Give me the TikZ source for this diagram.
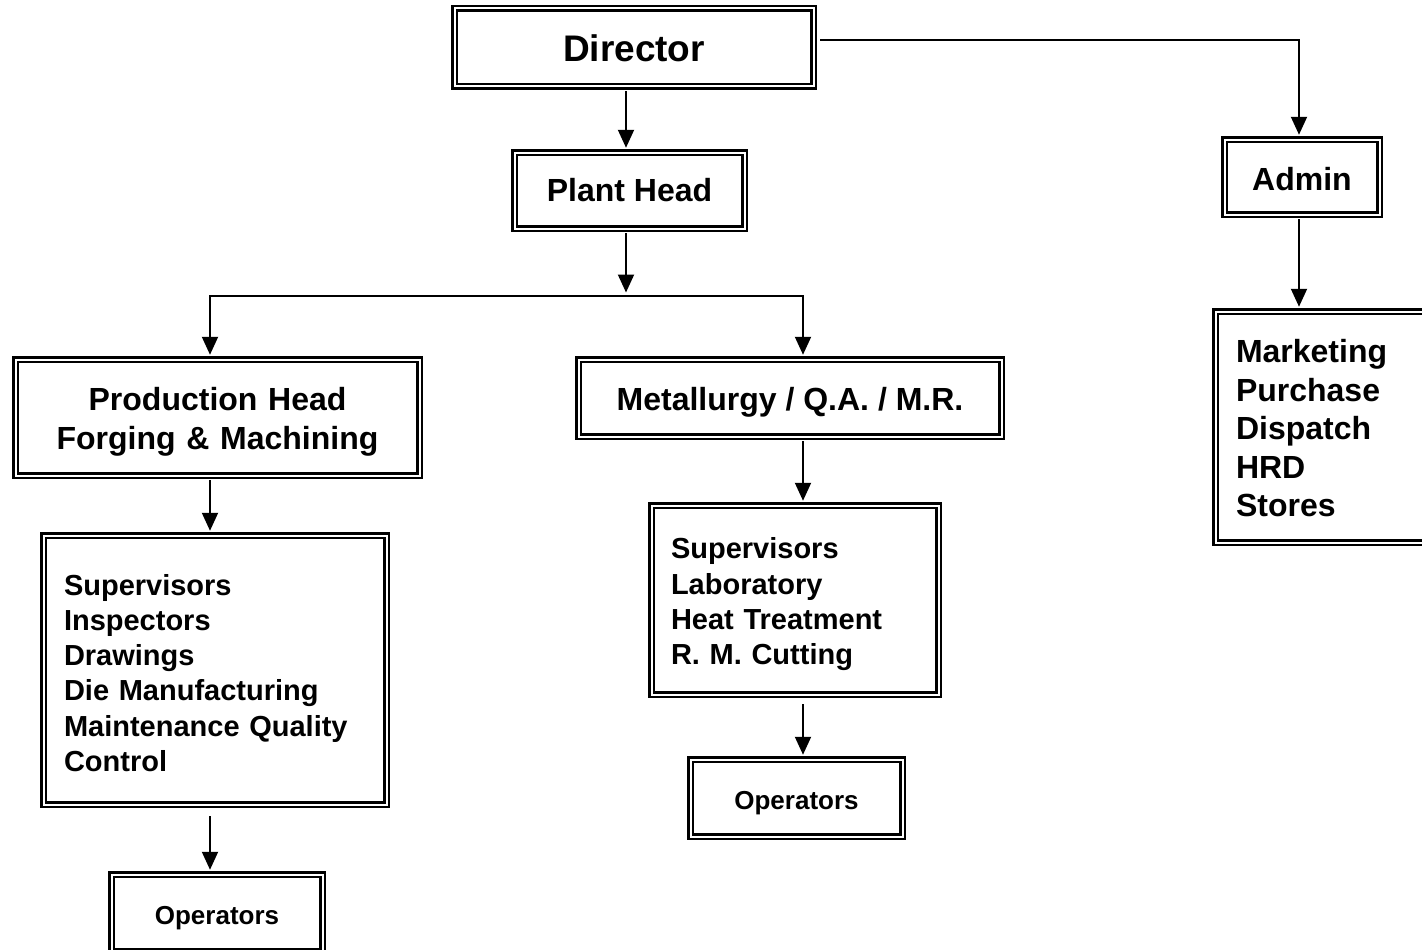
\documentclass[tikz,border=0pt]{standalone}
\usepackage{fontspec}
\setmainfont{Liberation Sans}
\usetikzlibrary{arrows.meta}

\begin{document}
\begin{tikzpicture}[x=1pt, y=-1pt,
  box/.style={draw, line width=2.5pt, double=white, double distance=2pt, inner sep=0pt, align=center, font=\bfseries\fontsize{32}{39}\selectfont},
  list/.style={box, align=left, font=\bfseries\fontsize{29}{35.2}\selectfont},
  lower/.style={execute at begin node={\rule{0pt}{#1}}},
  arr/.style={-{Triangle[width=16pt,length=18pt]}, line width=2pt, shorten >=3.5pt}]
\clip (0,0) rectangle (1422,950);

\node (director) [box, minimum width=359pt, minimum height=78pt, font=\bfseries\fontsize{37}{44}\selectfont, lower=28.5pt] at (634,47.5) {Director};
\node (plant) [box, minimum width=230pt, minimum height=76pt] at (629.5,190.5) {Plant Head};
\node (admin) [box, minimum width=155pt, minimum height=75pt, lower=27pt] at (1302,177) {Admin};
\node (prod) [box, text width=364pt, inner xsep=20pt, minimum height=116pt, lower=31.5pt] at (217.5,417.5) {Production Head\\Forging \& Machining};
\node (metal) [box, minimum width=423pt, minimum height=77pt, lower=31.5pt] at (790,398) {Metallurgy / Q.A. / M.R.};
\node (prodlist) [list, text width=302pt, inner xsep=20.5pt, minimum height=269pt, lower=27pt] at (215,670) {Supervisors\\Inspectors\\Drawings\\Die Manufacturing\\Maintenance Quality\\Control};
\node (metallist) [list, text width=248pt, inner xsep=19.5pt, minimum height=189pt, lower=29.5pt] at (795,600) {Supervisors\\Laboratory\\Heat Treatment\\R. M. Cutting};
\node (adminlist) [list, text width=170pt, inner xsep=20.5pt, minimum height=231pt, font=\bfseries\fontsize{32}{38.5}\selectfont, lower=25.5pt] at (1321,427) {Marketing\\Purchase\\Dispatch\\HRD\\Stores};
\node (prodops) [box, minimum width=211pt, minimum height=77pt, font=\bfseries\fontsize{26}{31}\selectfont, lower=29pt] at (217,913) {Operators};
\node (metalops) [box, minimum width=212pt, minimum height=77pt, font=\bfseries\fontsize{26}{31}\selectfont, lower=29pt] at (796.5,798) {Operators};

\coordinate (split) at (626,296);

% director to plant head and admin
\draw[arr, shorten <=3.5pt] ([xshift=-8pt]director.south) -- ([xshift=-8pt]director.south |- plant.north);
\draw[arr, shorten <=5.5pt] ([yshift=7.5pt]director.east) -| ([xshift=-3pt]admin.north);

% plant head to the two departments
\draw[arr, shorten <=3.5pt] ([xshift=-3.5pt]plant.south) -- (split);
\draw[arr] (split) -| ([xshift=-7.5pt]prod.north);
\draw[arr] (split) -| ([xshift=13pt]metal.north);

% down the columns
\draw[arr, shorten <=3.5pt] ([xshift=-7.5pt]prod.south) -- ([xshift=-7.5pt]prod.south |- prodlist.north);
\draw[arr, shorten <=10.5pt] ([xshift=-5pt]prodlist.south) -- ([xshift=-5pt]prodlist.south |- prodops.north);
\draw[arr, shorten <=3.5pt] ([xshift=13pt]metal.south) -- ([xshift=13pt]metal.south |- metallist.north);
\draw[arr, shorten <=8.5pt] ([xshift=8pt]metallist.south) -- ([xshift=8pt]metallist.south |- metalops.north);
\draw[arr, shorten <=3.5pt] ([xshift=-3pt]admin.south) -- ([xshift=-3pt]admin.south |- adminlist.north);
\end{tikzpicture}
\end{document}
